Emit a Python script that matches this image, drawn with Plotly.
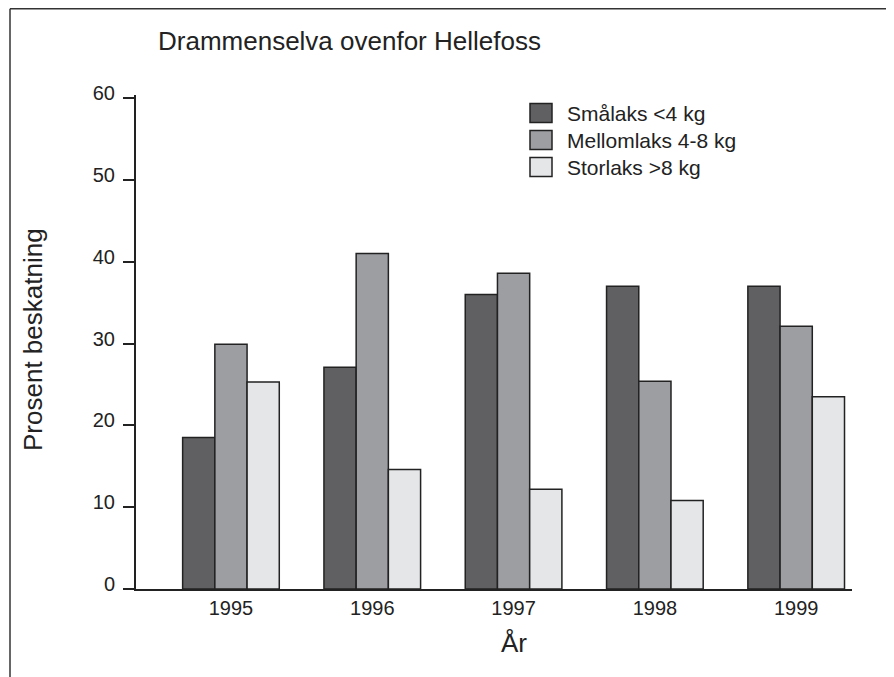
import plotly.graph_objects as go

years = ["1995", "1996", "1997", "1998", "1999"]
smalaks = [18.5, 27.1, 36.0, 37.0, 37.0]
mellomlaks = [29.9, 41.0, 38.6, 25.4, 32.1]
storlaks = [25.3, 14.6, 12.2, 10.8, 23.5]
series_names = ["Smålaks <4 kg", "Mellomlaks 4-8 kg", "Storlaks >8 kg"]
y_ticks = [0, 10, 20, 30, 40, 50, 60]

FONT = "Liberation Sans, Arial, Helvetica, sans-serif"
INK = "#222222"
colors = ["#606062", "#9d9ea2", "#e5e6e8"]

fig = go.Figure()
for name, vals, col in zip(series_names, [smalaks, mellomlaks, storlaks], colors):
    fig.add_trace(go.Bar(
        x=years, y=vals, name=name, showlegend=False,
        marker=dict(color=col, line=dict(color=INK, width=1.5)),
    ))

# page body has an 8px margin, so the figure is drawn 8px smaller
W, H = 886, 669
L, T = 128, 87
PLOT_R, PLOT_B = 844, 581          # right / bottom edge of the plot area (figure px)
R, B = W - PLOT_R, H - PLOT_B
pw, ph = W - L - R, H - T - B

def px(xp):
    return (xp - L) / pw

def py(yp):
    return (H - B - yp) / ph

# legend drawn as swatches + labels (larger swatches than plotly's own legend)
LEG_X0, LEG_W, LEG_H = 522, 22, 19
LEG_ROWS = [105, 132, 159]
shapes = []
annotations = []
for name, col, yc in zip(series_names, colors, LEG_ROWS):
    shapes.append(dict(type="rect", xref="paper", yref="paper",
                       x0=px(LEG_X0), x1=px(LEG_X0 + LEG_W),
                       y0=py(yc - LEG_H / 2), y1=py(yc + LEG_H / 2),
                       fillcolor=col, line=dict(color=INK, width=1.5)))
    annotations.append(dict(text=name, xref="paper", yref="paper",
                            x=px(557), y=py(yc), xanchor="left", yanchor="middle",
                            showarrow=False, font=dict(size=21, family=FONT, color=INK)))

annotations += [
    dict(text="Drammenselva ovenfor Hellefoss", xref="paper", yref="paper",
         x=px(148), y=py(33), xanchor="left", yanchor="middle",
         showarrow=False, font=dict(size=26, family=FONT, color=INK)),
    dict(text="Prosent beskatning", xref="paper", yref="paper",
         x=px(25), y=py(332), xanchor="center", yanchor="middle", textangle=-90,
         showarrow=False, font=dict(size=26, family=FONT, color=INK)),
    dict(text="År", xref="paper", yref="paper",
         x=px(506), y=py(635), xanchor="center", yanchor="middle",
         showarrow=False, font=dict(size=26, family=FONT, color=INK)),
]

shapes += [
    dict(type="line", xref="paper", yref="paper",
         x0=px(2), x1=px(2), y0=py(0.75), y1=py(700),
         line=dict(color="#333333", width=1.5)),
    dict(type="line", xref="paper", yref="paper",
         x0=px(2), x1=px(900), y0=py(0.75), y1=py(0.75),
         line=dict(color="#333333", width=1.5)),
]

fig.update_layout(
    width=W, height=H,
    margin=dict(l=L, r=R, t=T, b=B),
    paper_bgcolor="white", plot_bgcolor="white",
    barmode="group", bargap=0.316, bargroupgap=0,
    font=dict(family=FONT, color=INK, size=20),
    showlegend=False,
    xaxis=dict(
        type="category", range=[-0.672, 4.395],
        showline=True, linecolor=INK, linewidth=2,
        ticks="", showgrid=False, zeroline=False,
        tickfont=dict(size=20, family=FONT, color=INK),
    ),
    yaxis=dict(
        range=[0, 60.37], tickvals=y_ticks,
        showline=True, linecolor=INK, linewidth=2,
        ticks="outside", ticklen=11, tickwidth=2, tickcolor=INK,
        showgrid=False, zeroline=False,
        tickfont=dict(size=20, family=FONT, color=INK),
        ticklabelstandoff=4, ticklabelshift=-5,
    ),
    annotations=annotations,
    shapes=shapes,
)

fig.write_html("out.html")
